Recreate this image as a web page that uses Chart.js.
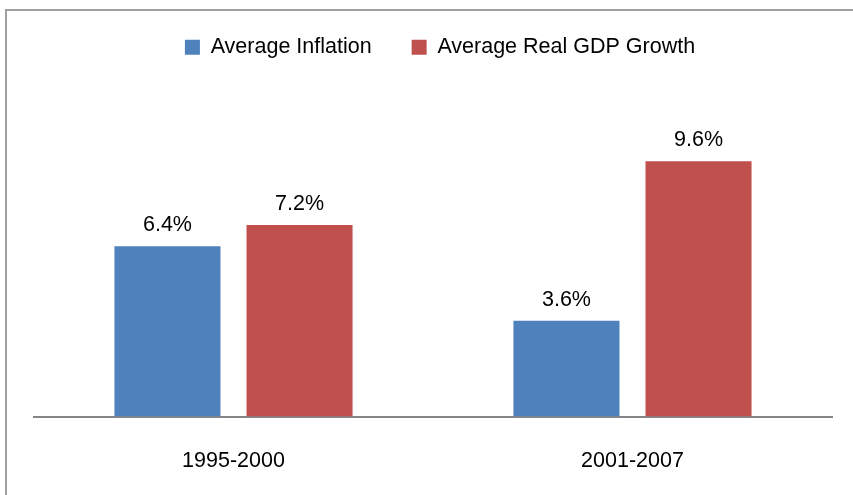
<!DOCTYPE html>
<html>
<head>
<meta charset="utf-8">
<script src="https://cdn.jsdelivr.net/npm/chart.js@4/dist/chart.umd.min.js"></script>
<style>
  html, body { margin: 0; padding: 0; background: #fff; }
  #wrap { position: relative; width: 853px; height: 495px; }
  #frame { position: absolute; left: 5px; top: 9px; right: -2px; bottom: -2px; border-top: 2px solid #a0a0a0; border-left: 2px solid #a0a0a0; pointer-events: none; }
  canvas { position: absolute; left: 0; top: 0; }
</style>
</head>
<body>
<div id="wrap">
  <canvas id="c" width="853" height="495"></canvas>
  <div id="frame"></div>
</div>
<script>
const categories = ["1995-2000", "2001-2007"];
const inflation = [6.4, 3.6];
const gdpGrowth = [7.2, 9.6];
const seriesNames = ["Average Inflation", "Average Real GDP Growth"];

const FONT = "'Liberation Sans', Arial, sans-serif";

const valueLabels = {
  id: 'valueLabels',
  afterDatasetsDraw(chart) {
    const ctx = chart.ctx;
    ctx.save();
    ctx.font = "21.5px " + FONT;
    ctx.fillStyle = "#000";
    ctx.textAlign = "center";
    ctx.textBaseline = "alphabetic";
    chart.data.datasets.forEach((ds, i) => {
      const meta = chart.getDatasetMeta(i);
      meta.data.forEach((el, j) => {
        ctx.fillText(ds.data[j].toFixed(1) + "%", el.x, el.y - 15);
      });
    });
    ctx.restore();
  }
};

const legendTweak = {
  id: 'legendTweak',
  afterInit(chart) {
    const lg = chart.legend;
    if (!lg) return;
    const f = lg.fit;
    lg.fit = function () { f.call(this); this.height = 97.5; };
  },
  afterLayout(chart) {
    const lg = chart.legend;
    if (!lg) return;
    lg.left += 7; lg.right += 7;
    lg.top = -3.5; lg.bottom = lg.top + lg.height;
  }
};

new Chart(document.getElementById('c'), {
  type: 'bar',
  data: {
    labels: categories,
    datasets: [
      { label: seriesNames[0], data: inflation, backgroundColor: '#4F81BD', borderWidth: 0 },
      { label: seriesNames[1], data: gdpGrowth, backgroundColor: '#C0504D', borderWidth: 0 }
    ]
  },
  options: {
    responsive: false,
    animation: false,
    devicePixelRatio: 1,
    layout: { padding: { left: 34, right: 21, top: 0, bottom: 0 } },
    plugins: {
      legend: {
        position: 'top',
        labels: {
          font: { family: FONT, size: 21.5 },
          color: '#000',
          boxWidth: 15,
          boxHeight: 15,
          padding: 40
        }
      },
      tooltip: { enabled: false }
    },
    datasets: {
      bar: { categoryPercentage: 0.662, barPercentage: 0.803 }
    },
    scales: {
      x: {
        grid: { display: false, drawTicks: false },
        border: { display: true, color: '#868686', width: 2 },
        ticks: { font: { family: FONT, size: 21.5 }, color: '#000', padding: 31.5 },
        afterFit(scale) { scale.height = 78.5; }
      },
      y: {
        display: false,
        min: 0,
        max: 12
      }
    }
  },
  plugins: [valueLabels, legendTweak]
});
</script>
</body>
</html>
